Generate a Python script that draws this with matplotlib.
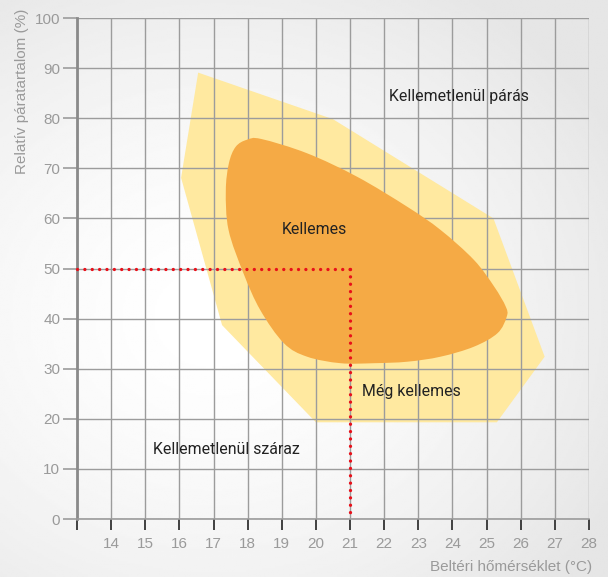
import numpy as np
import matplotlib
matplotlib.use("Agg")
import matplotlib.pyplot as plt
from matplotlib.path import Path
from matplotlib.patches import PathPatch, Polygon

# comfort zones: temperature (°C) vs relative humidity (%)
still_ok_t = [16.55, 20.5, 25.2, 26.7, 25.3, 20.0, 17.25, 16.05]
still_ok_rh = [89.1, 79.8, 60.0, 32.4, 19.3, 19.3, 38.7, 68.1]

comfort_t = [18.4, 19.74, 21.21, 22.68, 23.65, 24.63, 25.22, 25.56, 25.59, 25.32,
             24.63, 23.65, 22.68, 21.70, 20.72, 19.74, 19.06, 18.37, 17.88, 17.44,
             17.36, 17.45, 17.65, 17.98]
comfort_rh = [75.85, 73.0, 68.3, 62.3, 57.7, 51.7, 46.4, 42.4, 40.4, 37.1,
              34.4, 32.4, 31.4, 31.1, 31.1, 32.4, 35.1, 41.7, 49.0, 57.7,
              65.5, 71.0, 74.3, 75.7]

ref_t, ref_rh = 21, 50

x_ticks = list(range(14, 29))
y_ticks = list(range(0, 101, 10))

labels = ["Kellemetlenül párás", "Kellemes", "Még kellemes", "Kellemetlenül száraz"]
label_t = [22.13, 19.94, 21.36, 15.23]
label_rh = [84.4, 57.7, 25.4, 13.8]
label_ha = ["left", "center", "left", "left"]

YELLOW = "#FFE9A0"
ORANGE = "#F5AA45"
GRID = "#9C9C9C"
TICKTXT = "#9A9A9A"
RED = "#E8101A"


def closed_bezier(xs, ys):
    """Closed Catmull-Rom curve through the points, as a cubic Bezier path."""
    pts = np.column_stack([xs, ys])
    n = len(pts)
    verts = [pts[0]]
    codes = [Path.MOVETO]
    for i in range(n):
        p0, p1, p2, p3 = pts[i - 1], pts[i], pts[(i + 1) % n], pts[(i + 2) % n]
        verts += [p1 + (p2 - p0) / 6, p2 - (p3 - p1) / 6, p2]
        codes += [Path.CURVE4] * 3
    verts.append(pts[0])
    codes.append(Path.CLOSEPOLY)
    return Path(verts, codes)


fig = plt.figure(figsize=(6.08, 5.77), dpi=100)

# soft grey-to-white backdrop
bg = fig.add_axes([0, 0, 1, 1], zorder=-10)
gx, gy = np.meshgrid(np.linspace(0, 1, 300), np.linspace(0, 1, 300))
r = np.hypot((gx - 0.35) * 1.0, (gy - 0.55) * 1.1)
shade = 1.0 - 0.10 * np.clip(r / 0.75, 0, 1) ** 1.6
bg.imshow(shade, cmap="gray", vmin=0, vmax=1, extent=[0, 1, 0, 1], aspect="auto")
bg.axis("off")

ax = fig.add_axes([0.1266, 0.1005, 0.8422, 0.8683])
ax.set_facecolor("none")
ax.set_xlim(13, 28)
ax.set_ylim(0, 100)

ax.add_patch(Polygon(np.column_stack([still_ok_t, still_ok_rh]), closed=True,
                     facecolor=YELLOW, edgecolor="none", zorder=1))
ax.add_patch(PathPatch(closed_bezier(comfort_t, comfort_rh),
                       facecolor=ORANGE, edgecolor="none", zorder=2))

# reference point guide lines
dots = dict(color=RED, lw=2.4, linestyle=(0, (0.01, 2.2)),
            dash_capstyle="round", zorder=3, clip_on=False)
ax.plot([13, ref_t], [ref_rh, ref_rh], **dots)
ax.plot([ref_t, ref_t], [ref_rh, 0], **dots)

for txt, tx, ty, ha in zip(labels, label_t, label_rh, label_ha):
    ax.text(tx, ty, txt, ha=ha, va="center", fontsize=11.4, color="#222222",
            family="Roboto", zorder=4)

ax.set_axisbelow("line")
ax.set_xticks([13] + x_ticks)
ax.set_xticklabels([""] + [str(v) for v in x_ticks])
ax.set_yticks(y_ticks)
ax.grid(True, color=GRID, lw=1.0)

ax.tick_params(axis="x", direction="out", length=8, width=1.3, color="#333333",
               labelcolor=TICKTXT, labelsize=11, pad=5)
ax.tick_params(axis="y", direction="out", length=10, width=1.2, color=GRID,
               labelcolor=TICKTXT, labelsize=11, pad=2)
for lab in ax.get_xticklabels() + ax.get_yticklabels():
    lab.set_family("Liberation Sans")

for side in ("top", "right"):
    ax.spines[side].set_visible(False)
ax.spines["left"].set_color("#8A8A8A")
ax.spines["left"].set_linewidth(2.0)
ax.spines["bottom"].set_color(GRID)
ax.spines["bottom"].set_linewidth(1.2)

fig.text(0.036, 0.985, "Relatív páratartalom (%)", rotation=90, ha="center", va="top",
         fontsize=11, color=TICKTXT, family="Liberation Sans")
fig.text(0.974, 0.018, "Beltéri hőmérséklet (°C)", ha="right", va="center",
         fontsize=11, color=TICKTXT, family="Liberation Sans")

fig.savefig("out.png", dpi=100)
